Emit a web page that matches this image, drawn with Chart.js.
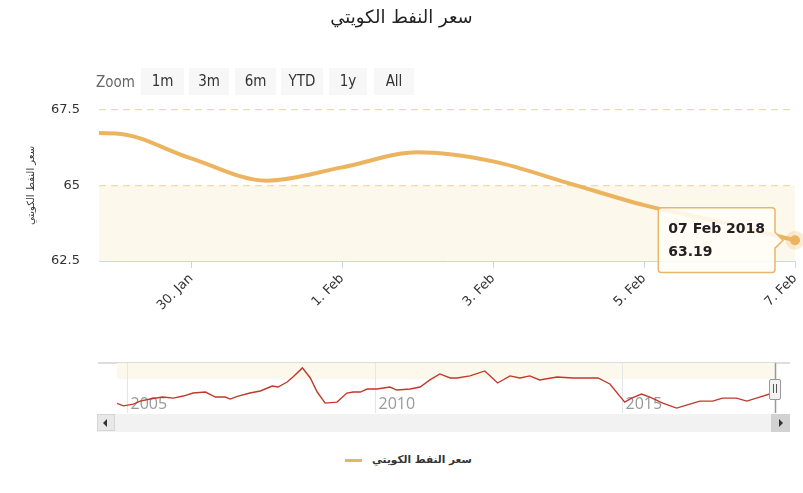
<!DOCTYPE html>
<html>
<head>
<meta charset="utf-8">
<script src="https://cdn.jsdelivr.net/npm/chart.js@4"></script>
<style>
  html, body { margin:0; padding:0; background:#fff; }
  body { width:803px; height:493px; position:relative; overflow:hidden; font-family:'DejaVu Sans', sans-serif; }
  #title { position:absolute; top:6px; left:0; width:803px; text-align:center; font-size:18px; color:#222; }
  .zoomlbl { position:absolute; top:70px; left:96px; font:15px 'Liberation Sans Narrow','DejaVu Sans Condensed',sans-serif; color:#666; line-height:24px; }
  .btn { position:absolute; top:68px; height:27px; background:#f7f7f7; font:15px 'Liberation Sans Narrow','DejaVu Sans Condensed',sans-serif; color:#333; text-align:center; line-height:26px; }
  #mainWrap { position:absolute; left:0; top:0; width:803px; height:345px; }
  #navWrap { position:absolute; left:0; top:355px; width:803px; height:60px; }
  .abs { position:absolute; }
  #legend { position:absolute; top:453px; left:345px; font-size:10.5px; font-weight:bold; color:#333; }
</style>
</head>
<body>
<div id="mainWrap"><canvas id="mainChart"></canvas></div>
<div id="title">سعر النفط الكويتي</div>
<div class="zoomlbl">Zoom</div>
<div class="btn" style="left:141px;width:43px">1m</div>
<div class="btn" style="left:189px;width:40px">3m</div>
<div class="btn" style="left:235px;width:41px">6m</div>
<div class="btn" style="left:281px;width:42px">YTD</div>
<div class="btn" style="left:329px;width:38px">1y</div>
<div class="btn" style="left:374px;width:40px">All</div>

<div class="abs" style="left:98px;top:362px;width:692px;height:2px;background:#ddd"></div>
<div id="navWrap"><canvas id="navChart"></canvas></div>
<!-- scrollbar -->
<div class="abs" style="left:97px;top:414px;width:693px;height:18px;background:#f2f2f2"></div>
<div class="abs" style="left:97px;top:414px;width:18px;height:17px;background:#e8e8e8;border:1px solid #d5d5d5;box-sizing:border-box"></div>
<div class="abs" style="left:103px;top:419px;width:0;height:0;border-top:4px solid transparent;border-bottom:4px solid transparent;border-right:4px solid #333"></div>
<div class="abs" style="left:771px;top:414px;width:19px;height:18px;background:#d2d2d2"></div>
<div class="abs" style="left:779px;top:419px;width:0;height:0;border-top:4px solid transparent;border-bottom:4px solid transparent;border-left:4px solid #333"></div>
<!-- navigator handle -->
<div class="abs" style="left:769px;top:379px;width:10px;height:19px;background:#f2f2f2;border:1px solid #999;border-radius:2px"></div>
<div class="abs" style="left:773px;top:384px;width:1px;height:9px;background:#555"></div>
<div class="abs" style="left:776px;top:384px;width:1px;height:9px;background:#555"></div>

<div id="legend"><span style="display:inline-block;width:17px;height:3px;background:#ecb45f;vertical-align:middle;margin-right:10px"></span>سعر النفط الكويتي</div>

<script>
// main view: day counted from 1 Jan (32 = 1 Feb)
const mainDays = [28, 29, 30, 31, 32, 33, 34, 35, 36, 37, 38];
const mainPrices = [66.75, 66.72, 65.9, 65.16, 65.6, 66.1, 65.8, 65.08, 64.35, 63.8, 63.19];
const tickDays = [30, 32, 34, 36, 38];
const tickLabels = ['30. Jan', '1. Feb', '3. Feb', '5. Feb', '7. Feb'];
const yTicks = [62.5, 65, 67.5];
const lastDateLabel = '07 Feb 2018';
const seriesName = 'سعر النفط الكويتي';

// navigator: whole history
const navYears = [2004.79, 2004.92, 2005.12, 2005.26, 2005.46, 2005.71, 2005.93, 2006.13, 2006.33, 2006.58,
  2006.78, 2006.98, 2007.08, 2007.24, 2007.48, 2007.69, 2007.93, 2008.05, 2008.23, 2008.35, 2008.54,
  2008.70, 2008.84, 2009.00, 2009.24, 2009.44, 2009.57, 2009.71, 2009.85, 2010.05, 2010.31, 2010.45,
  2010.72, 2010.92, 2011.12, 2011.32, 2011.53, 2011.67, 2011.93, 2012.23, 2012.49, 2012.74, 2012.94,
  2013.14, 2013.34, 2013.69, 2014.01, 2014.52, 2014.76, 2015.06, 2015.20, 2015.40, 2015.57, 2015.83,
  2016.11, 2016.31, 2016.58, 2016.84, 2017.04, 2017.32, 2017.53, 2017.79, 2017.99, 2018.10];
const navPrices = [35.6, 29.1, 33.7, 41.7, 47.1, 52.4, 49.7, 55.1, 63.1, 65.8,
  52.4, 52.4, 47.1, 55.1, 63.1, 68.5, 81.8, 79.1, 92.5, 105.9, 130,
  103.2, 65.8, 36.4, 39.0, 63.1, 65.8, 65.8, 73.8, 73.8, 79.1, 71.1,
  73.8, 79.1, 97.9, 113.9, 103.2, 103.2, 108.6, 121.9, 89.8, 108.6, 103.2,
  108.6, 97.9, 105.9, 103.2, 103.2, 87.2, 39.0, 49.7, 60.4, 52.4, 36.4,
  23, 31, 41.7, 41.7, 49.7, 49.7, 41.7, 52.4, 60.4, 62];
const navTickYears = [2005, 2010, 2015];

const lineColor = '#ecb45f';

const mainBand = {
  id: 'mainBand',
  beforeDraw(chart){
    const {ctx, chartArea:a, scales:{y}} = chart;
    const top = y.getPixelForValue(65), bot = y.getPixelForValue(62.5);
    ctx.save();
    ctx.fillStyle = '#fdf8ec';
    ctx.fillRect(a.left, top, a.right - a.left, bot - top);
    ctx.restore();
  }
};

const mainChart = new Chart(document.getElementById('mainChart'), {
  type: 'line',
  data: {
    datasets: [{
      label: seriesName,
      data: mainDays.map((d, i) => ({x: d, y: mainPrices[i]})),
      borderColor: lineColor,
      borderWidth: 4,
      cubicInterpolationMode: 'monotone',
      pointRadius: 0,
      pointHoverRadius: 5,
      pointHoverBackgroundColor: lineColor,
      pointHoverBorderColor: 'rgba(236,180,95,0.25)',
      pointHoverBorderWidth: 9,
      clip: {left: 0, top: 0, right: false, bottom: 0}
    }]
  },
  options: {
    responsive: true,
    maintainAspectRatio: false,
    animation: false,
    events: [],
    layout: { padding: { top: 110, right: 8, left: 0, bottom: 0 } },
    plugins: {
      legend: { display: false },
      tooltip: {
        enabled: true,
        xAlign: 'right',
        yAlign: 'center',
        caretSize: 8,
        caretPadding: 12,
        backgroundColor: 'rgba(255,253,247,0.88)',
        borderColor: '#e7b769',
        borderWidth: 1.5,
        cornerRadius: 3,
        padding: { left: 10, right: 10, top: 13, bottom: 12 },
        titleColor: '#222',
        bodyColor: '#222',
        titleFont: { family: 'DejaVu Sans', size: 14, weight: 'bold' },
        bodyFont: { family: 'DejaVu Sans', size: 14, weight: 'bold' },
        titleMarginBottom: 6,
        displayColors: false,
        callbacks: {
          title: () => lastDateLabel,
          label: (c) => c.parsed.y.toFixed(2)
        }
      }
    },
    scales: {
      x: {
        type: 'linear',
        min: 28.78,
        max: 38,
        afterBuildTicks: (s) => { s.ticks = tickDays.map(v => ({value: v})); },
        afterFit: (s) => { s.height = 84; s.paddingRight = 0; s.paddingLeft = 0; },
        border: { color: '#ccd6eb', width: 1 },
        grid: { drawOnChartArea: false, tickLength: 7, color: '#ccd6eb' },
        ticks: {
          minRotation: 45, maxRotation: 45,
          color: '#333',
          font: { family: 'DejaVu Sans', size: 13 },
          callback: (v, i) => tickLabels[i]
        }
      },
      y: {
        min: 62.5,
        max: 67.5,
        afterBuildTicks: (s) => { s.ticks = yTicks.map(v => ({value: v})); },
        afterFit: (s) => { s.width = 99; },
        grid: {
          drawTicks: false,
          color: (c) => c.tick && c.tick.value === 62.5 ? 'rgba(0,0,0,0)' : '#f3d9a8',
          lineWidth: 1.2
        },
        border: { display: false, dash: [7, 5] },
        ticks: { padding: 19, color: '#333', font: { family: 'DejaVu Sans', size: 13 } },
        title: {
          display: true,
          text: seriesName,
          color: '#333',
          font: { family: 'DejaVu Sans', size: 10 },
          padding: { top: 25, bottom: 0 }
        }
      }
    }
  },
  plugins: [mainBand]
});

const lastIdx = mainDays.length - 1;
mainChart.setActiveElements([{datasetIndex: 0, index: lastIdx}]);
mainChart.tooltip.setActiveElements([{datasetIndex: 0, index: lastIdx}], {x: 0, y: 0});
mainChart.update('none');

const navDecor = {
  id: 'navDecor',
  beforeDatasetsDraw(chart){
    const {ctx, chartArea:a, scales:{x, y}} = chart;
    ctx.save();
    const bandBot = y.getPixelForValue(100);
    ctx.fillStyle = '#fdf8ec';
    ctx.fillRect(a.left, a.top, a.right - a.left, bandBot - a.top);
    ctx.strokeStyle = '#e6e6e6';
    ctx.lineWidth = 1;
    ctx.fillStyle = '#999';
    ctx.font = "16px 'Open Sans', sans-serif";
    ctx.textBaseline = 'alphabetic';
    navTickYears.forEach(yr => {
      const px = Math.round(x.getPixelForValue(yr)) + 0.5;
      ctx.beginPath();
      ctx.moveTo(px, a.top);
      ctx.lineTo(px, a.bottom);
      ctx.stroke();
      ctx.fillText(String(yr), px + 3, a.bottom - 4);
    });
    ctx.restore();
  },
  afterDraw(chart){
    const {ctx, chartArea:a} = chart;
    ctx.save();
    ctx.strokeStyle = '#999';
    ctx.lineWidth = 1.5;
    ctx.beginPath();
    ctx.moveTo(a.right + 0.5, a.top);
    ctx.lineTo(a.right + 0.5, a.bottom);
    ctx.stroke();
    ctx.restore();
  }
};

new Chart(document.getElementById('navChart'), {
  type: 'line',
  data: {
    datasets: [{
      data: navYears.map((yr, i) => ({x: yr, y: navPrices[i]})),
      borderColor: '#c0392b',
      borderWidth: 1.4,
      pointRadius: 0,
      tension: 0
    }]
  },
  options: {
    responsive: true,
    maintainAspectRatio: false,
    animation: false,
    events: [],
    layout: { padding: { top: 8, bottom: 2, left: 117, right: 28 } },
    plugins: { legend: { display: false }, tooltip: { enabled: false } },
    scales: {
      x: { type: 'linear', min: 2004.79, max: 2018.1, display: false },
      y: { min: 10, max: 143, display: false }
    }
  },
  plugins: [navDecor]
});
</script>
</body>
</html>
